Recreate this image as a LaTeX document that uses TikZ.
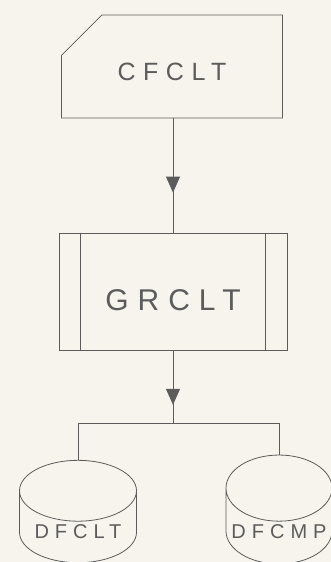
\documentclass[tikz,border=0pt]{standalone}
\usepackage{fontspec}
\setmainfont{Liberation Sans}
\newfontfamily\pencilfont[LetterSpace=30]{Liberation Sans}
\usetikzlibrary{arrows.meta,positioning,shapes.geometric,shapes.misc,calc,decorations.markings}
\definecolor{pencilGrey}{HTML}{5C5C5C}
\definecolor{paperCream}{HTML}{F6F4EC}
\definecolor{tipGrey}{HTML}{8C8C8C}
\tikzset{
  pencil/.style={
    draw=pencilGrey,
    line width=0.8pt
  },
  cardbox/.style={
    pencil,
    chamfered rectangle,
    chamfered rectangle corners=north west,
    chamfered rectangle xsep=21pt,
    chamfered rectangle ysep=23pt,
    minimum width=221pt,
    minimum height=103pt,
    text height=28pt,
    text depth=0pt,
    text=pencilGrey,
    font=\pencilfont\fontsize{25}{30}\selectfont
  },
  processbox/.style={
    pencil,
    rectangle,
    minimum width=228pt,
    minimum height=117pt,
    text height=37.5pt,
    text depth=0pt,
    text=pencilGrey,
    font=\pencilfont\fontsize{30}{36}\selectfont
  },
  storebox/.style={
    pencil,
    cylinder,
    shape border rotate=90,
    aspect=0.65,
    minimum width=117pt,
    minimum height=98pt,
    text=pencilGrey,
    font=\pencilfont\fontsize{20}{24}\selectfont
  },
  flowArrow/.style={
    pencil,
    postaction={decorate},
    decoration={
      markings,
      mark=at position #1 with {\arrow[fill=tipGrey]{Triangle[length=16pt,width=14pt]}}
    }
  }
}

\begin{document}
\begin{tikzpicture}[x=1pt,y=1pt]
  \fill[paperCream] (0,0) rectangle (331,562);
  \useasboundingbox (0,0) rectangle (331,562);
  \node[cardbox] (cfclt) at (172,495.5) {CFCLT};
  \node[processbox] (grclt) at (173,270.5) {GRCLT};
  \node[storebox] (dfclt) at (78,30) {DFCLT};
  \node[storebox,minimum width=106pt] (dfcmp) at (279,30) {DFCMP};
  \coordinate (split) at (173,139);
  % inner bars of the process box
  \draw[pencil] ($(grclt.north west)+(22,0)$) -- ($(grclt.south west)+(22,0)$);
  \draw[pencil] ($(grclt.north east)+(-22,0)$) -- ($(grclt.south east)+(-22,0)$);
  \draw[flowArrow=0.65] (cfclt.south -| grclt.north) -- (grclt.north);
  \draw[flowArrow=0.75] (grclt.south) -- (split);
  \draw[pencil] (split) -| (dfclt.north);
  \draw[pencil] (split) -| (dfcmp.north);
\end{tikzpicture}
\end{document}
